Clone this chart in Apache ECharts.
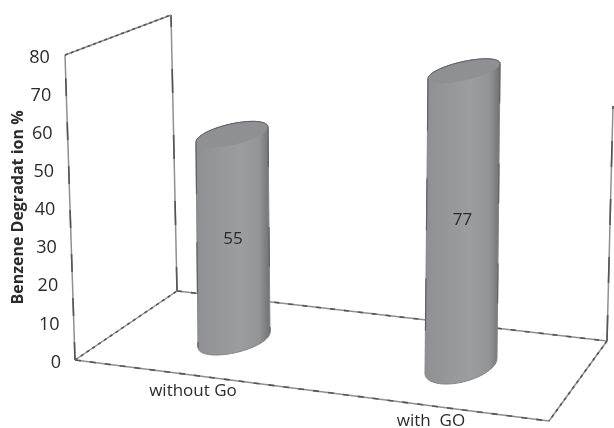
<!DOCTYPE html>
<html>
<head>
<meta charset="utf-8">
<style>html,body{margin:0;padding:0;background:#fff}#chart{width:614px;height:428px}</style>
<script src="https://cdn.jsdelivr.net/npm/echarts@6/dist/echarts.min.js"></script>
</head>
<body>
<div id="chart"></div>
<script>
// Benzene degradation with and without GO
const categories = ['without Go', 'with  GO'];
const degradation = [55, 77];
const tickLabels = [0, 10, 20, 30, 40, 50, 60, 70, 80];

// Pseudo-3D placement of each cylinder relative to its category centre
const cylinderBase = [{ dx: 26, dy: -20 }, { dx: -13, dy: 6 }];
const cylinderTopDx = [-2, 3];
const cylinderDepth = [0.98, 1.005];
const cylinderBaseMinor = [13, 16.4];
const cylinderTopMinor = [10.8, 9.6];

// Corners of the wireframe box as offsets from the plot area's lower-left corner
const boxCorners = {
  frontBottom: [0, 0], frontTop: [-10, -305],
  backBottom: [102, -69], backTop: [96, -345],
  rightBottom: [532, -19], rightTop: [538, -254],
  nearRight: [474, 61]
};

const ink = '#2b2b2b';
const axisRich = {};
tickLabels.forEach(v => {
  axisRich['t' + v] = { fontFamily: 'Open Sans', fontSize: 18, color: ink, padding: [5, 5 + v * 0.14, 0, 0] };
});

const chart = echarts.init(document.getElementById('chart'), null, { renderer: 'canvas' });

function renderBox(params, api) {
  const origin = api.coord([0, 0]);
  const gridLeft = params.coordSys.x;
  const p = k => [gridLeft + boxCorners[k][0], origin[1] + boxCorners[k][1]];
  const edges = [
    ['frontBottom', 'frontTop', [18, 26]],
    ['backBottom', 'backTop', [24, 42]],
    ['rightBottom', 'rightTop', [26, 32]],
    ['frontTop', 'backTop', [3, 3]],
    ['frontBottom', 'backBottom', [3, 4]],
    ['backBottom', 'rightBottom', [5, 9]],
    ['frontBottom', 'nearRight', [6, 9]],
    ['rightBottom', 'nearRight', [3, 4]]
  ];
  const children = [];
  edges.forEach(([a, b, dash]) => {
    const shape = { x1: p(a)[0], y1: p(a)[1], x2: p(b)[0], y2: p(b)[1] };
    children.push({ type: 'line', shape, style: { stroke: '#8f8f8f', lineWidth: 1.5 } });
    children.push({ type: 'line', shape, style: { stroke: '#555', lineWidth: 1.6, lineDash: dash } });
  });
  return { type: 'group', children };
}

function ellipsePoints(cx, cy, a, b, shear, from, to) {
  const pts = [];
  for (let i = 0; i <= 48; i++) {
    const t = from + (to - from) * i / 48;
    pts.push([cx + a * Math.cos(t), cy + b * Math.sin(t) + shear * Math.cos(t)]);
  }
  return pts;
}

function renderCylinder(params, api) {
  const i = api.value(0);
  const value = api.value(1);
  const p0 = api.coord([i, 0]);
  const pv = api.coord([i, value]);
  const baseX = p0[0] + cylinderBase[i].dx;
  const baseY = p0[1] + cylinderBase[i].dy;
  const topX = baseX + cylinderTopDx[i];
  const topY = baseY - (p0[1] - pv[1]) * cylinderDepth[i];
  const a = 36;
  const shear = -7.5;
  const lower = ellipsePoints(baseX, baseY, a, cylinderBaseMinor[i], shear, 0, Math.PI);
  const upper = ellipsePoints(topX, topY, a, cylinderTopMinor[i], shear, Math.PI, 2 * Math.PI);
  const body = upper.concat(lower);
  const rim = ellipsePoints(topX, topY, a, cylinderTopMinor[i], shear, 0, 2 * Math.PI);
  const side = new echarts.graphic.LinearGradient(0, 0, 1, 0, [
    { offset: 0, color: '#8e8f92' },
    { offset: 0.12, color: '#929396' },
    { offset: 0.6, color: '#9c9d9f' },
    { offset: 0.85, color: '#939497' },
    { offset: 0.95, color: '#7b7c7f' },
    { offset: 1, color: '#6e6f72' }
  ]);
  const leftEdge = { x1: topX - a, y1: topY - shear, x2: baseX - a, y2: baseY - shear };
  const rightEdge = { x1: topX + a, y1: topY + shear, x2: baseX + a, y2: baseY + shear };
  return {
    type: 'group',
    children: [
      { type: 'polygon', shape: { points: body }, style: { fill: side, stroke: '#85868a', lineWidth: 1 } },
      { type: 'polygon', shape: { points: rim }, style: { fill: '#8f9093' } },
      { type: 'polyline', shape: { points: upper }, style: { fill: null, stroke: '#5f6063', lineWidth: 1 } },
      { type: 'line', shape: leftEdge, style: { stroke: '#5f6063', lineWidth: 1.2, lineDash: [52, 48] } },
      { type: 'line', shape: rightEdge, style: { stroke: '#5f6063', lineWidth: 1.2, lineDash: [40, 60] } },
      {
        type: 'text',
        style: {
          x: (topX + baseX) / 2, y: (topY + baseY) / 2 + 2,
          text: String(value), fontFamily: 'Open Sans', fontSize: 17, fill: ink,
          align: 'center', verticalAlign: 'middle'
        }
      }
    ]
  };
}

chart.setOption({
  animation: false,
  backgroundColor: '#fff',
  grid: { left: 75, right: 7, top: 55, bottom: 68, outerBoundsMode: 'none' },
  xAxis: {
    type: 'category',
    data: categories,
    axisLine: { show: false },
    axisTick: { show: false },
    splitLine: { show: false },
    axisLabel: {
      margin: 23,
      interval: 0,
      formatter: (v, idx) => '{c' + idx + '|' + v + '}',
      rich: {
        c0: { fontFamily: 'Open Sans', fontSize: 17, color: ink, padding: [0, 30, 0, 0] },
        c1: { fontFamily: 'Open Sans', fontSize: 17, color: ink, padding: [30, 86, 0, 0] }
      }
    }
  },
  yAxis: {
    type: 'value',
    min: 0,
    max: 80,
    interval: 10,
    name: 'Benzene Degradat ion %',
    nameLocation: 'middle',
    nameRotate: 90,
    nameGap: 49,
    nameMoveOverlap: false,
    nameTextStyle: { fontFamily: 'Open Sans', fontWeight: 'bold', fontSize: 16, color: ink },
    axisLine: { show: false },
    axisTick: { show: false },
    splitLine: { show: false },
    axisLabel: { margin: 9, formatter: v => '{t' + v + '|' + v + '}', rich: axisRich }
  },
  series: [
    { type: 'custom', silent: true, clip: false, data: [[0, 0]], renderItem: renderBox, z: 1 },
    {
      type: 'custom', silent: true, clip: false, z: 2,
      encode: { x: 0, y: 1 },
      data: degradation.map((v, i) => [i, v]),
      renderItem: renderCylinder
    }
  ]
});
</script>
</body>
</html>
